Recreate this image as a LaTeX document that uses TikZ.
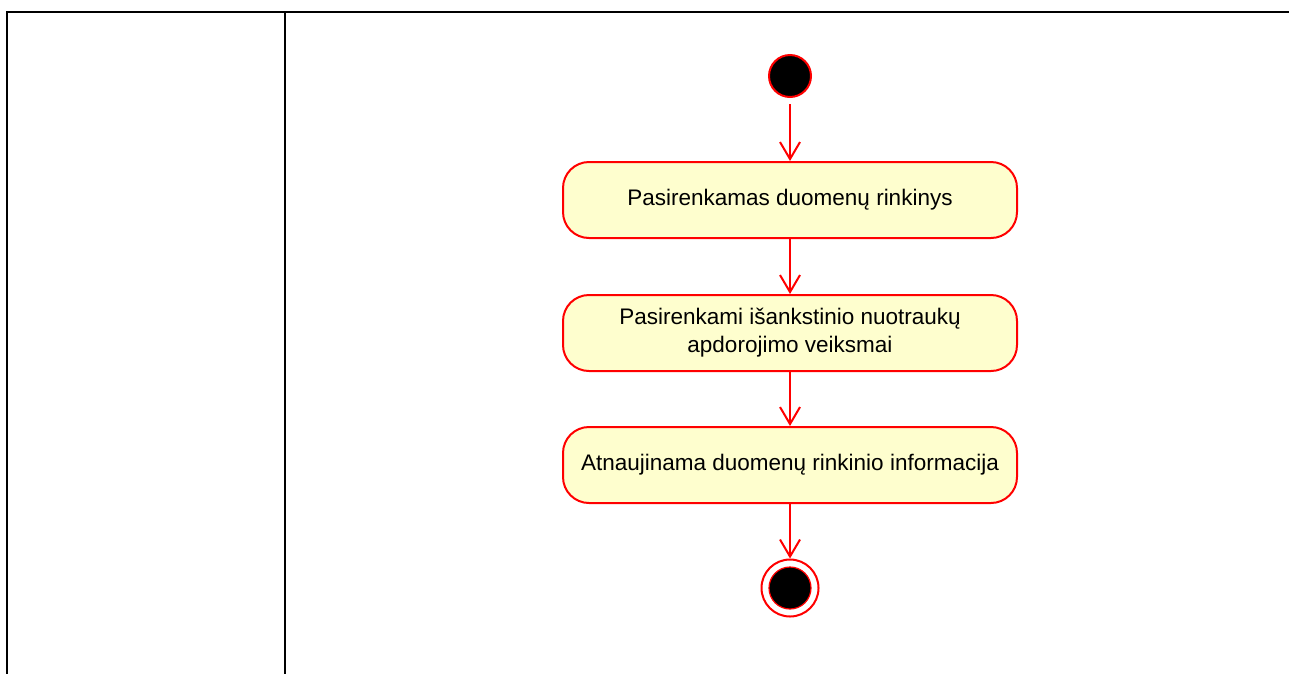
\documentclass[tikz,border=0pt]{standalone}
\usepackage{fontspec}
\setmainfont{Liberation Sans}
\usetikzlibrary{arrows.meta}
\definecolor{umlred}{RGB}{255,0,0}
\definecolor{umlfill}{RGB}{254,254,206}
\tikzset{
  actbox/.style={draw=umlred, fill=umlfill, line width=2pt, rounded corners=26pt,
    minimum width=454pt, minimum height=76pt, align=center, font=\fontsize{22.5}{28}\selectfont, inner sep=0pt},
  flow/.style={color=umlred, line width=2pt, -{Straight Barb[length=17pt,width=20pt]}},
  lane/.style={draw=black, line width=2pt}
}
\begin{document}
\begin{tikzpicture}[x=1pt,y=-1pt]
\useasboundingbox (0,0) rectangle (1289,673);
\draw[lane] (7,674) -- (7,12) -- (1290,12);
\draw[lane] (285,12) -- (285,674);
\node[circle, fill=black, draw=umlred, line width=2pt, minimum size=42pt, inner sep=0pt] (start) at (790,76) {};
\node[actbox] (a1) at (790,200) {\raisebox{-1pt}{Pasirenkamas duomenų rinkinys}};
\node[actbox] (a2) at (790,333) {Pasirenkami išankstinio nuotraukų\\apdorojimo veiksmai};
\node[actbox] (a3) at (790,465) {\raisebox{-1pt}{Atnaujinama duomenų rinkinio informacija}};
\node[circle, draw=umlred, fill=white, line width=2pt, minimum size=57pt, inner sep=0pt] (end) at (790,588) {};
\node[circle, fill=black, draw=umlred, line width=1.2pt, minimum size=42pt, inner sep=0pt] (endin) at (end.center) {};
\draw[flow] ([yshift=-6pt]start.south) -- (a1.north);
\draw[flow] (a1.south) -- (a2.north);
\draw[flow] (a2.south) -- (a3.north);
\draw[flow] (a3.south) -- (end.north);
\end{tikzpicture}
\end{document}
